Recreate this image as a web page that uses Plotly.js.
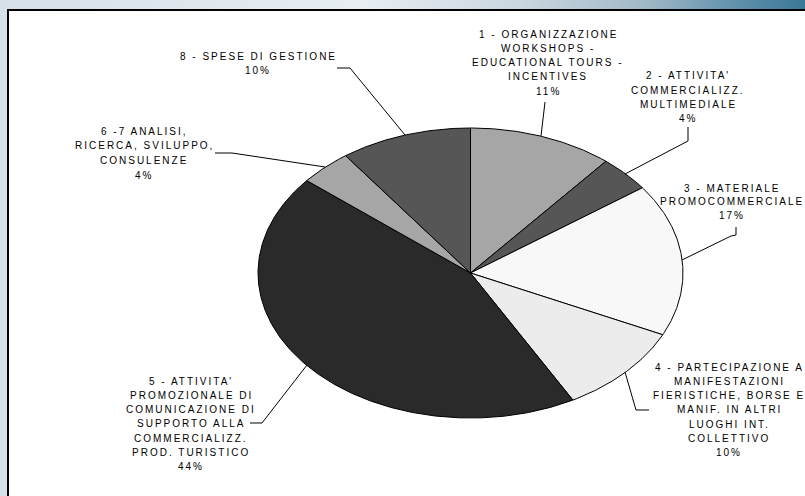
<!DOCTYPE html>
<html>
<head>
<meta charset="utf-8">
<script src="https://cdn.plot.ly/plotly-3.0.1.min.js"></script>
<style>
  html, body { margin: 0; padding: 0; }
  body {
    width: 805px; height: 496px; overflow: hidden;
    background: linear-gradient(to right, #d5e0e8 0%, #e8eef2 45%, #c9d6df 65%, #a2b9c7 80%, #5d8fab 92%, #3a7897 100%);
  }
  #chart { width: 805px; height: 496px; }
  .annotation-text { letter-spacing: 2px; }
</style>
</head>
<body>
<div id="chart"></div>
<script>
// ---- DATA ----
const categories = [
  "1 - ORGANIZZAZIONE<br>WORKSHOPS -<br>EDUCATIONAL TOURS -<br>INCENTIVES",
  "2 - ATTIVITA'<br>COMMERCIALIZZ.<br>MULTIMEDIALE",
  "3 - MATERIALE<br>PROMOCOMMERCIALE",
  "4 - PARTECIPAZIONE A<br>MANIFESTAZIONI<br>FIERISTICHE, BORSE E<br>MANIF. IN ALTRI<br>LUOGHI INT.<br>COLLETTIVO",
  "5 - ATTIVITA'<br>PROMOZIONALE DI<br>COMUNICAZIONE DI<br>SUPPORTO ALLA<br>COMMERCIALIZZ.<br>PROD. TURISTICO",
  "6 -7 ANALISI,<br>RICERCA, SVILUPPO,<br>CONSULENZE",
  "8 - SPESE DI GESTIONE"
];
const values = [11, 4, 17, 10, 44, 4, 10];
const percentLabels = ["11%", "4%", "17%", "10%", "44%", "4%", "10%"];

// ---- STYLE / LAYOUT ----
const W = 805, H = 496;
const sliceColors = ["#a6a6a6", "#565656", "#f8f8f8", "#ececec", "#2a2a2a", "#a6a6a6", "#565656"];
const cx = 470.5, cy = 273, rx = 212.5, ry = 145; // pixel geometry of the pie ellipse
// label block placement (pixels): centre x, first line y, line step
const labelPos = [
  [548, 34, 14.25], [688, 76, 14.3], [732, 188, 13.5], [729, 367, 14.3],
  [191, 381, 14.3], [144, 131, 14.7], [258, 56, 14]
];
// leader line polylines (pixels), last point ends on the slice
const leaders = [
  [[545, 102], [541, 136]],
  [[688, 127], [688, 141], [625, 174]],
  [[736, 227], [736, 235], [731, 236], [682, 260]],
  [[649, 410], [636, 410], [625, 372]],
  [[250, 423], [262, 423], [307, 365]],
  [[215, 153], [232, 153], [325, 167]],
  [[337, 68], [350, 68], [405, 135]]
];

const px = (x) => x / W;
const py = (y) => 1 - y / H;

// ---- slices as filled polygons on a unit circle (axes stretch it into the ellipse) ----
const total = values.reduce((a, b) => a + b, 0);
const traces = [];
let cum = 0;
values.forEach((v, i) => {
  const a0 = cum / total * 2 * Math.PI;
  cum += v;
  const a1 = cum / total * 2 * Math.PI;
  const n = Math.max(4, Math.ceil((a1 - a0) / (Math.PI / 360)));
  const xs = [0], ys = [0];
  for (let k = 0; k <= n; k++) {
    const a = a0 + (a1 - a0) * k / n;
    xs.push(Math.sin(a));
    ys.push(Math.cos(a));
  }
  xs.push(0); ys.push(0);
  traces.push({
    type: "scatter", mode: "lines", x: xs, y: ys,
    fill: "toself", fillcolor: sliceColors[i],
    line: { color: "#000000", width: 1 },
    hoverinfo: "skip", showlegend: false
  });
});

// ---- labels ----
const annotations = [];
categories.forEach((c, i) => {
  const lines = c.split("<br>").concat([percentLabels[i]]);
  const [lx, ly, step] = labelPos[i];
  lines.forEach((t, j) => {
    annotations.push({
      xref: "paper", yref: "paper", x: px(lx), y: py(ly + j * step),
      xanchor: "center", yanchor: "middle", showarrow: false, text: t,
      font: { family: "Liberation Sans, Arial, sans-serif", size: 10, color: "#000000" }
    });
  });
});

// ---- shapes: white panel + leader lines ----
const shapes = [{
  type: "rect", xref: "paper", yref: "paper", layer: "below",
  x0: px(8), x1: 1.05, y0: -0.05, y1: py(10),
  fillcolor: "#ffffff", line: { color: "#000000", width: 2 }
}];
leaders.forEach((pts) => {
  const path = pts.map((p, k) => (k ? "L" : "M") + px(p[0]).toFixed(5) + "," + py(p[1]).toFixed(5)).join(" ");
  shapes.push({ type: "path", xref: "paper", yref: "paper", path: path, line: { color: "#000000", width: 1 } });
});

const layout = {
  width: W, height: H,
  margin: { l: 0, r: 0, t: 0, b: 0, pad: 0 },
  paper_bgcolor: "rgba(0,0,0,0)", plot_bgcolor: "rgba(0,0,0,0)",
  xaxis: { range: [-cx / rx, (W - cx) / rx], visible: false, fixedrange: true },
  yaxis: { range: [-(H - cy) / ry, cy / ry], visible: false, fixedrange: true },
  showlegend: false,
  annotations: annotations,
  shapes: shapes
};

Plotly.newPlot("chart", traces, layout, { staticPlot: true, displayModeBar: false });
</script>
</body>
</html>
